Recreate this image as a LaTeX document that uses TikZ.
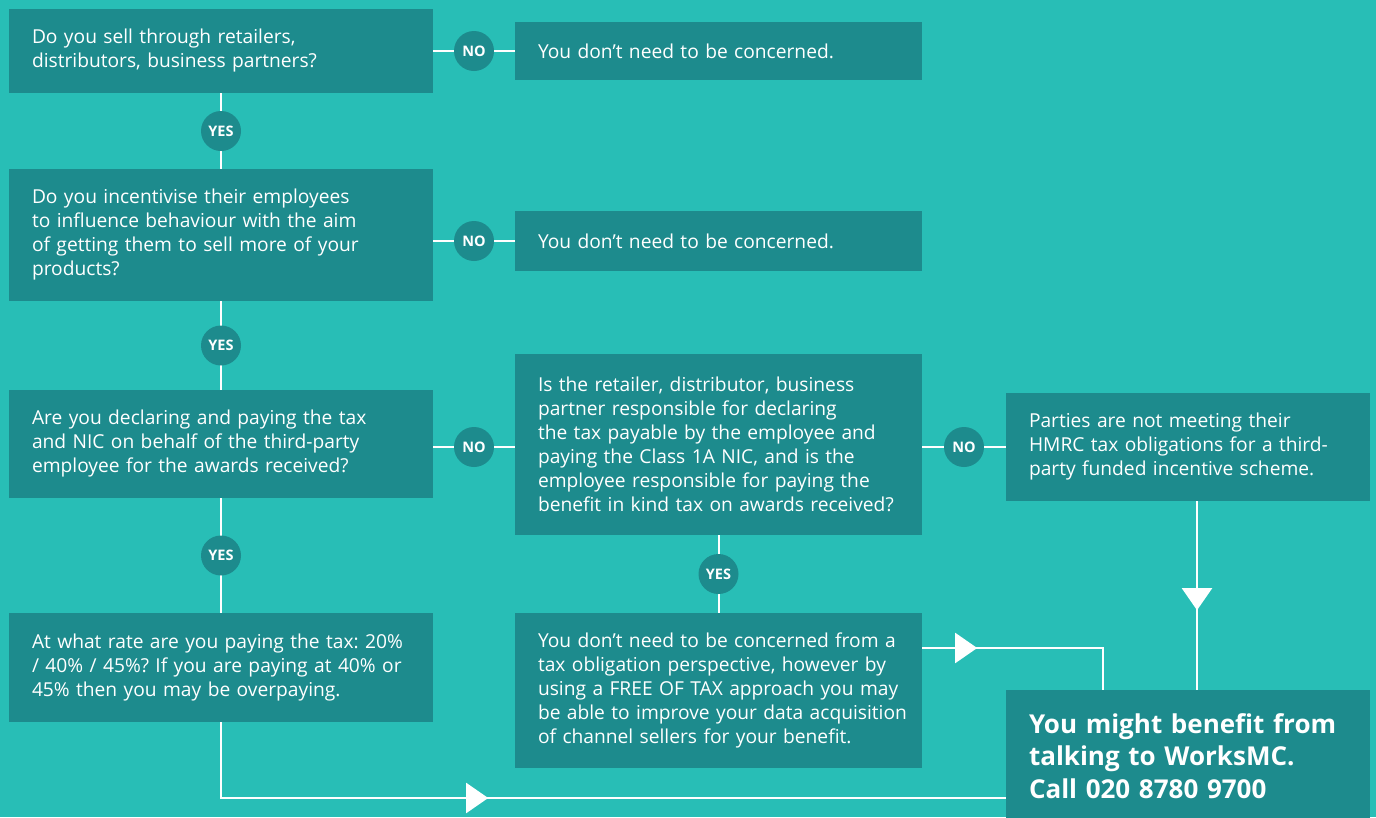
\documentclass[tikz,border=0pt]{standalone}
\usepackage{fontspec}
\setmainfont{Open Sans}
\usepackage{xcolor}
\usetikzlibrary{positioning,calc,arrows.meta,decorations.markings}

\definecolor{bgteal}{RGB}{40,190,182}
\definecolor{boxteal}{RGB}{29,139,141}

\frenchspacing
\hyphenpenalty=10000
\exhyphenpenalty=10000

\tikzset{
  qbox/.style={fill=boxteal, text=white, align=left, inner xsep=23pt, inner ysep=0pt,
    font=\fontsize{19.2}{24}\selectfont},
  endbox/.style={qbox, font=\bfseries\fontsize{26}{32.5}\selectfont},
  answer/.style={circle, fill=boxteal, text=white, minimum size=40pt, inner sep=0pt,
    font=\bfseries\fontsize{14.5}{14.5}\selectfont},
  link/.style={draw=white, line width=2pt},
  arrowmid/.style={postaction={decorate}, decoration={markings,
    mark=at position #1 with {\arrow[white]{Triangle[length=22pt,width=30pt]}}}}
}

\begin{document}
\begin{tikzpicture}[x=1pt,y=-1pt]
  \useasboundingbox (0,0) rectangle (1376,817);
  \fill[bgteal] (0,0) rectangle (1376,817);

  % left column
  \node[qbox, minimum width=424, minimum height=84, text width=378] (q1) at (221,51)
    {Do you sell through retailers,\\distributors, business partners?};
  \node[qbox, minimum width=424, minimum height=132, text width=378] (q2) at (221,235)
    {Do you incentivise their employees\\to influence behaviour with the aim\\of getting them to sell more of your\\products?};
  \node[qbox, minimum width=424, minimum height=108, text width=378] (q3) at (221,444)
    {Are you declaring and paying the tax\\and NIC on behalf of the third-party\\employee for the awards received?};
  \node[qbox, minimum width=424, minimum height=109, text width=378] (q6) at (221,667.5)
    {\mbox{At what rate are you paying the tax: 20\%}\\/ 40\% / 45\%? If you are paying at 40\% or\\45\% then you may be overpaying.};

  % middle column
  \node[qbox, minimum width=407, minimum height=58, text width=361] (a1) at (718.5,51)
    {You don’t need to be concerned.};
  \node[qbox, minimum width=407, minimum height=60, text width=361] (a2) at (718.5,241)
    {You don’t need to be concerned.};
  \node[qbox, minimum width=407, minimum height=181, text width=361] (q4) at (718.5,444.5)
    {Is the retailer, distributor, business\\partner responsible for declaring\\the tax payable by the employee and\\paying the Class 1A NIC, and is the\\employee responsible for paying the\\\mbox{benefit in kind tax on awards received?}};
  \node[qbox, minimum width=407, minimum height=155, text width=361] (a3) at (718.5,690.5)
    {\mbox{You don’t need to be concerned from a}\\tax obligation perspective, however by\\\mbox{using a FREE OF TAX approach you may}\\\mbox{be able to improve your data acquisition}\\of channel sellers for your benefit.};

  % right column
  \node[qbox, minimum width=364, minimum height=108, text width=318] (q5) at (1188,447)
    {Parties are not meeting their\\HMRC tax obligations for a third-\\party funded incentive scheme.};
  \node[endbox, minimum width=364, minimum height=132, text width=318] (final) at (1188,756)
    {You might benefit from\\talking to WorksMC.\\Call 020 8780 9700};

  % yes / no links
  \draw[link] (q1) -- node[answer] {NO} (a1);
  \draw[link] (q2.east |- a2) -- node[answer] {NO} (a2);
  \draw[link] (q3.east |- q5) -- node[answer] {NO} (q4.west |- q5);
  \draw[link] (q4.east |- q5) -- node[answer] {NO} (q5);
  \draw[link] (q1) -- node[answer] {YES} (q2);
  \draw[link] (q2) -- node[answer] {YES} (q3);
  \draw[link] (q3) -- node[answer] {YES} (q6);
  \draw[link] (q4) -- node[answer] {YES} (a3);

  % arrows into the last box
  \draw[link, arrowmid=343pt] (q6.south) |- ([yshift=-42pt]final.west);
  \draw[link, arrowmid=55pt] ([yshift=42.5pt]a3.east) -| ([xshift=-85pt]final.north);
  \draw[link, arrowmid=109pt] ([xshift=9pt]q5.south) -- ([xshift=9pt]final.north);
\end{tikzpicture}
\end{document}
